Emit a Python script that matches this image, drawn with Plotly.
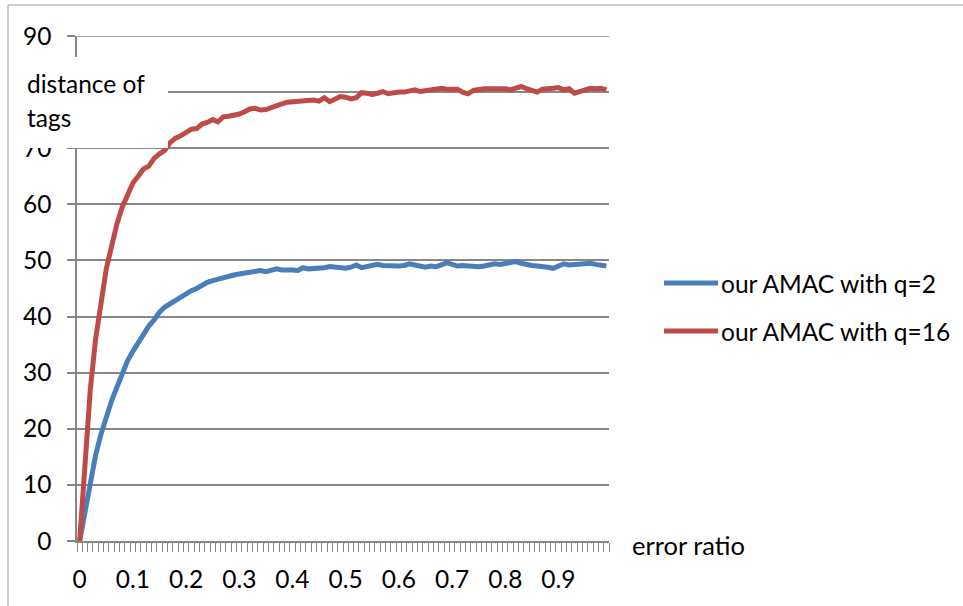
import plotly.graph_objects as go

# Error ratio categories 0, 0.01, ..., 0.99
error_ratio = [round(i * 0.01, 2) for i in range(100)]

# Distance of tags, AMAC with q=2
dist_q2 = [
    0.0, 5.2, 10.5, 15.3, 19.0, 22.3, 25.0, 27.4, 29.8, 32.1,
    33.8, 35.4, 37.1, 38.3, 39.4, 40.8, 41.7, 42.3, 42.8, 43.5,
    44.0, 44.6, 45.0, 45.6, 46.1, 46.4, 46.7, 47.0, 47.3, 47.4,
    47.6, 47.8, 47.9, 48.1, 48.2, 48.0, 48.3, 48.5, 48.3, 48.4,
    48.3, 48.2, 48.7, 48.5, 48.5, 48.6, 48.7, 48.9, 48.8, 48.9,
    48.6, 48.8, 49.2, 48.7, 48.9, 49.1, 49.3, 49.1, 49.0, 49.1,
    49.0, 49.1, 49.4, 49.2, 49.0, 48.8, 49.0, 48.9, 49.2, 49.6,
    49.3, 49.0, 49.1, 49.0, 49.0, 48.9, 49.0, 49.2, 49.4, 49.3,
    49.5, 49.7, 49.8, 49.5, 49.2, 49.1, 49.0, 49.0, 48.8, 48.6,
    49.0, 49.4, 49.2, 49.3, 49.2, 49.3, 49.5, 49.3, 49.2, 49.0,
]

# Distance of tags, AMAC with q=16
dist_q16 = [
    0.0, 14.0, 27.0, 36.0, 43.0, 48.5, 52.5, 56.5, 59.5, 61.8,
    63.8, 65.0, 66.3, 66.8, 68.2, 69.0, 69.6, 71.0, 71.8, 72.2,
    72.8, 73.4, 73.5, 74.3, 74.6, 75.1, 74.7, 75.6, 75.7, 75.8,
    76.1, 76.5, 77.0, 77.1, 76.8, 76.9, 77.3, 77.5, 77.9, 78.2,
    78.3, 78.4, 78.4, 78.5, 78.6, 78.4, 79.0, 78.3, 78.8, 79.2,
    79.1, 78.8, 79.0, 79.9, 79.8, 79.6, 79.8, 80.1, 79.7, 79.9,
    80.0, 80.0, 80.2, 80.4, 80.1, 80.2, 80.3, 80.4, 80.7, 80.5,
    80.4, 80.5, 80.0, 79.7, 80.3, 80.5, 80.6, 80.6, 80.7, 80.6,
    80.6, 80.4, 80.7, 81.0, 80.6, 80.2, 80.0, 80.5, 80.7, 80.7,
    80.8, 80.4, 80.6, 79.8, 80.1, 80.3, 80.7, 80.6, 80.7, 80.4,
]

series_names = ["our AMAC with q=2", "our AMAC with q=16"]
series_values = [dist_q2, dist_q16]
series_colors = ["#4A7EBB", "#BE4B48"]

x_tick_vals = [0, 0.1, 0.2, 0.3, 0.4, 0.5, 0.6, 0.7, 0.8, 0.9]
x_tick_text = ["0", "0.1", "0.2", "0.3", "0.4", "0.5", "0.6", "0.7", "0.8", "0.9"]
y_tick_vals = [0, 10, 20, 30, 40, 50, 60, 70, 80, 90]
# the 80 label sits under the axis-title box
y_tick_text = ["0", "10", "20", "30", "40", "50", "60", "70", "", "90"]

x_title = "error ratio"
y_title_lines = ["distance of", "tags"]

W, H = 963, 606
PL, PR, PT, PB = 77, 609, 36, 541  # plot area edges in pixels
FONT = "Lato, Carlito, Calibri, sans-serif"
FS = 24.5
GRAY = "#878787"


def fx(x):
    return (x - PL) / (PR - PL)


def fy(y):
    return (PB - y) / (PB - PT)


fig = go.Figure()
for name, vals, col in zip(series_names, series_values, series_colors):
    fig.add_trace(go.Scatter(
        x=error_ratio, y=vals, name=name, mode="lines",
        line=dict(color=col, width=5, shape="linear"),
        showlegend=False,
    ))

shapes = [
    # top gridline sits on the plot edge, draw it explicitly
    dict(type="line", xref="paper", yref="y", layer="below",
         x0=0, x1=1, y0=y_tick_vals[-1], y1=y_tick_vals[-1],
         line=dict(color=GRAY, width=1.5)),
    # white box behind the vertical axis title
    dict(type="rect", xref="paper", yref="paper", layer="above",
         x0=fx(9), x1=fx(168), y0=fy(148), y1=fy(57),
         fillcolor="white", line=dict(width=0)),
    # chart border
    dict(type="line", xref="paper", yref="paper", layer="above",
         x0=fx(8), x1=fx(8), y0=fy(5), y1=fy(H + 2),
         line=dict(color="#9a9a9a", width=1)),
    dict(type="line", xref="paper", yref="paper", layer="above",
         x0=fx(8), x1=fx(W + 2), y0=fy(5), y1=fy(5),
         line=dict(color="#9a9a9a", width=1)),
]

annotations = [
    dict(text=y_title_lines[0], xref="paper", yref="paper", x=fx(25), y=fy(84),
         xanchor="left", yanchor="middle", showarrow=False,
         font=dict(family=FONT, size=FS, color="black")),
    dict(text=y_title_lines[1], xref="paper", yref="paper", x=fx(25), y=fy(117),
         xanchor="left", yanchor="middle", showarrow=False,
         font=dict(family=FONT, size=FS, color="black")),
    dict(text=x_title, xref="paper", yref="paper", x=fx(630), y=fy(545),
         xanchor="left", yanchor="middle", showarrow=False,
         font=dict(family=FONT, size=25.5, color="black")),
]

# legend drawn as line samples plus labels
legend_rows = [283, 331]
for name, col, ly in zip(series_names, series_colors, legend_rows):
    shapes.append(dict(type="line", xref="paper", yref="paper", layer="above",
                       x0=fx(664), x1=fx(718), y0=fy(ly), y1=fy(ly),
                       line=dict(color=col, width=5)))
    annotations.append(dict(text=name, xref="paper", yref="paper", x=fx(719), y=fy(ly),
                            xanchor="left", yanchor="middle", showarrow=False,
                            font=dict(family=FONT, size=FS, color="black")))

fig.update_layout(
    width=W, height=H, autosize=False,
    margin=dict(l=PL, r=W - PR, t=PT, b=H - PB, pad=0, autoexpand=False),
    paper_bgcolor="white", plot_bgcolor="white",
    font=dict(family=FONT, size=FS, color="black"),
    shapes=shapes, annotations=annotations,
    xaxis=dict(
        range=[-0.005, 0.995], tickmode="array", tickvals=x_tick_vals, ticktext=x_tick_text,
        ticks="", showgrid=False, zeroline=False, automargin=False,
        showline=True, linecolor=GRAY, linewidth=1.5,
        ticklabelstandoff=16,
        minor=dict(tickmode="array", tickvals=[round(-0.005 + 0.01 * i, 3) for i in range(101)],
                   ticks="outside", ticklen=9, tickwidth=1, tickcolor=GRAY, showgrid=False),
        tickfont=dict(family=FONT, size=FS, color="black"),
    ),
    yaxis=dict(
        range=[0, 90], tickmode="array", tickvals=y_tick_vals, ticktext=y_tick_text,
        ticks="outside", ticklen=8, tickwidth=1.5, tickcolor=GRAY, automargin=False,
        showgrid=True, gridcolor=GRAY, gridwidth=1.5, zeroline=False,
        showline=True, linecolor=GRAY, linewidth=1.5,
        ticklabelstandoff=11,
        tickfont=dict(family=FONT, size=FS, color="black"),
    ),
)

fig.write_html("out.html")
